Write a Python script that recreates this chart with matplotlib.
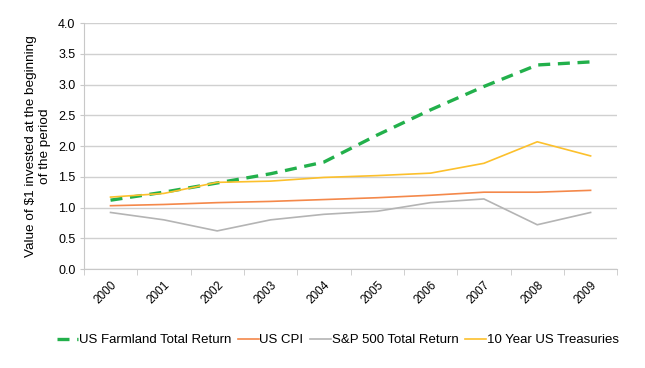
import matplotlib
matplotlib.use("Agg")
import matplotlib.pyplot as plt
import numpy as np

years = ["2000", "2001", "2002", "2003", "2004", "2005", "2006", "2007", "2008", "2009"]
farmland = [1.12, 1.25, 1.40, 1.55, 1.74, 2.18, 2.59, 2.97, 3.32, 3.37]
cpi = [1.03, 1.05, 1.08, 1.10, 1.13, 1.16, 1.20, 1.25, 1.25, 1.28]
sp500 = [0.92, 0.80, 0.62, 0.80, 0.89, 0.94, 1.08, 1.14, 0.72, 0.92]
treasuries = [1.17, 1.23, 1.41, 1.43, 1.49, 1.52, 1.56, 1.72, 2.07, 1.84]

plt.rcParams['font.family'] = ['Liberation Sans', 'DejaVu Sans']

fig = plt.figure(figsize=(6.45, 3.68), dpi=100)
ax = fig.add_axes([0.130, 0.269, 0.827, 0.668])

x = np.arange(len(years))
ax.plot(x, farmland, color='#22b04b', lw=2.4, dashes=(3.6, 2.3), label='US Farmland Total Return')
ax.plot(x, cpi, color='#f4884a', lw=1.2, label='US CPI')
ax.plot(x, sp500, color='#b4b4b4', lw=1.2, label='S&P 500 Total Return')
ax.plot(x, treasuries, color='#fcc02c', lw=1.2, label='10 Year US Treasuries')

ax.set_xlim(-0.5, len(years) - 0.5)
ax.set_ylim(0, 4.0)
yt = np.arange(0, 4.01, 0.5)
ax.set_yticks(yt)
ax.set_yticklabels([f"{v:.1f}" for v in yt], fontsize=9)
ax.set_xticks(x)
ax.set_xticklabels(years, rotation=45, ha='right', va='top', rotation_mode='anchor', fontsize=8.5)
ax.set_xticks(np.arange(-0.5, len(years), 1), minor=True)
ax.tick_params(axis='x', which='major', length=0, pad=7)
ax.tick_params(axis='x', which='minor', length=4, color='#c8c8c8')
ax.tick_params(axis='y', length=3, color='#c8c8c8', pad=3)

ax.grid(axis='y', color='#d0d0d0', lw=1)
ax.set_axisbelow(True)
for s in ['top', 'right']:
    ax.spines[s].set_visible(False)
ax.spines['left'].set_color('#c8c8c8')
ax.spines['bottom'].set_color('#c8c8c8')

ax.set_ylabel("Value of $1 invested at the beginning\nof the period", fontsize=9.7,
              linespacing=1.2, labelpad=5)

fig.legend(loc='center', bbox_to_anchor=(0.524, 0.076), ncol=4, frameon=False,
           fontsize=9.5, handlelength=1.6, handletextpad=0.05, columnspacing=0.5)

fig.savefig("out.png", dpi=100)
